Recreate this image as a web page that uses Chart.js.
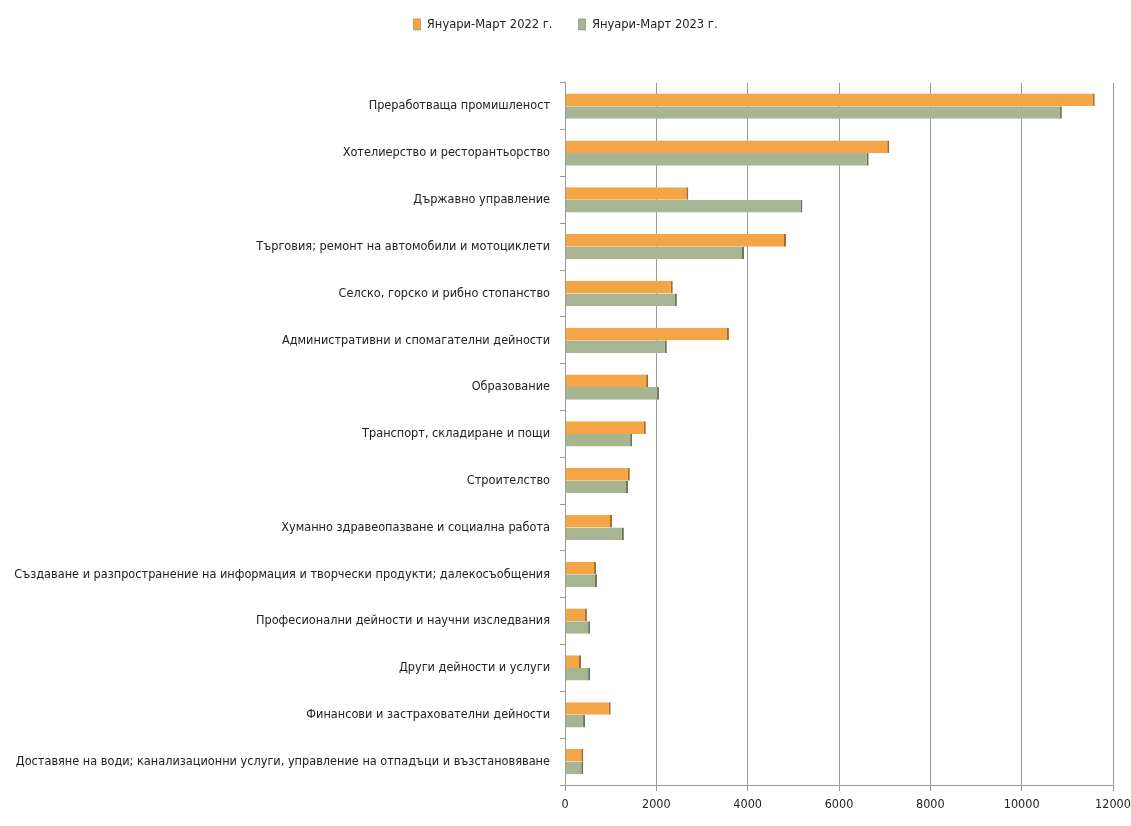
<!DOCTYPE html>
<html>
<head>
<meta charset="utf-8">
<script src="https://cdn.jsdelivr.net/npm/chart.js@4.4.0/dist/chart.umd.min.js"></script>
<style>
  html, body { margin: 0; padding: 0; background: #ffffff; }
  #wrap { width: 1131px; height: 826px; }
</style>
</head>
<body>
<div id="wrap"><canvas id="sectorChart" width="1131" height="826"></canvas></div>
<script>
  // Categories (top to bottom)
  const sectors = [
    "Преработваща промишленост",
    "Хотелиерство и ресторантьорство",
    "Държавно управление",
    "Търговия; ремонт на автомобили и мотоциклети",
    "Селско, горско и рибно стопанство",
    "Административни и спомагателни дейности",
    "Образование",
    "Транспорт, складиране и пощи",
    "Строителство",
    "Хуманно здравеопазване и социална работа",
    "Създаване и разпространение на информация и творчески продукти; далекосъобщения",
    "Професионални дейности и научни изследвания",
    "Други дейности и услуги",
    "Финансови и застрахователни дейности",
    "Доставяне на води; канализационни услуги, управление на отпадъци и възстановяване"
  ];

  const seriesLabels = ["Януари-Март 2022 г.", "Януари-Март 2023 г."];

  // Values
  const values2022 = [11600, 7100, 2700, 4840, 2360, 3590, 1820, 1770, 1420, 1030, 680, 480, 350, 1000, 400];
  const values2023 = [10880, 6650, 5200, 3920, 2450, 2230, 2060, 1470, 1380, 1290, 700, 550, 550, 440, 400];

  const xTicks = [0, 2000, 4000, 6000, 8000, 10000, 12000];

  const fontFamily = "'Liberation Sans Narrow', 'DejaVu Sans Condensed', 'Roboto', sans-serif";

  // extra space under the legend, like the original
  const legendGap = {
    id: "legendGap",
    beforeInit(chart) {
      const origFit = chart.legend.fit;
      chart.legend.fit = function () {
        origFit.bind(chart.legend)();
        this.height += 42;
      };
    }
  };

  const ctx = document.getElementById("sectorChart");
  new Chart(ctx, {
    type: "bar",
    data: {
      labels: sectors,
      datasets: [{
        label: seriesLabels[0],
        data: values2022,
        backgroundColor: "#f4a548",
        borderColor: "#a86a26",
        borderWidth: { top: 0, right: 2, bottom: 0, left: 0 },
        borderSkipped: false,
        barPercentage: 1,
        categoryPercentage: 0.54
      }, {
        label: seriesLabels[1],
        data: values2023,
        backgroundColor: "#a8b592",
        borderColor: "#6b7759",
        borderWidth: { top: 0, right: 2, bottom: 0, left: 0 },
        borderSkipped: false,
        barPercentage: 1,
        categoryPercentage: 0.54
      }]
    },
    options: {
      indexAxis: "y",
      responsive: false,
      animation: false,
      layout: {
        padding: { top: -8, right: 0, bottom: 8, left: 0 }
      },
      plugins: {
        legend: {
          position: "top",
          labels: {
            font: { family: fontFamily, size: 12.8 },
            color: "#222",
            boxWidth: 7,
            boxHeight: 11,
            padding: 26
          }
        },
        tooltip: { enabled: false }
      },
      scales: {
        x: {
          min: 0,
          max: 12000,
          afterBuildTicks: function (scale) {
            scale.ticks = xTicks.map(v => ({ value: v }));
          },
          afterFit: function (scale) {
            scale.paddingRight = 18;
          },
          ticks: {
            font: { family: fontFamily, size: 12.5 },
            color: "#222",
            padding: 6,
            callback: function (value) { return String(value); }
          },
          grid: {
            color: "#9a9a9a",
            lineWidth: 1,
            tickLength: 6
          },
          border: { color: "#9a9a9a" }
        },
        y: {
          afterFit: function (scale) {
            scale.width = 565;
          },
          ticks: {
            font: { family: fontFamily, size: 12.6 },
            color: "#222",
            padding: 10
          },
          grid: {
            drawOnChartArea: false,
            color: "#9a9a9a",
            tickLength: 5,
            offset: true
          },
          border: { color: "#9a9a9a" }
        }
      }
    },
    plugins: [legendGap]
  });
</script>
</body>
</html>
